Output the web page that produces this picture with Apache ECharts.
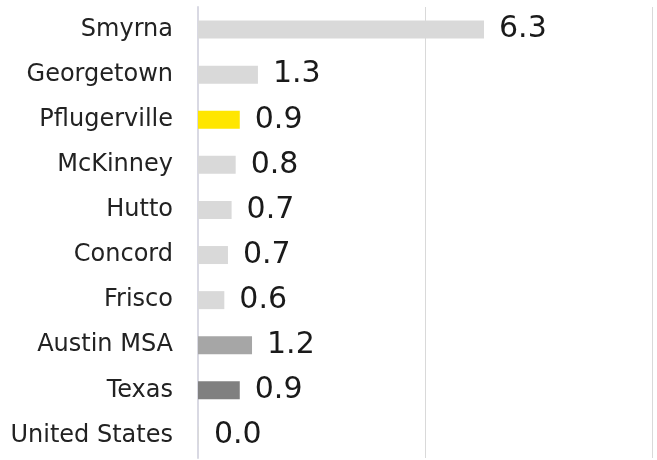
<!DOCTYPE html>
<html>
<head>
<meta charset="utf-8">
<script src="https://cdn.jsdelivr.net/npm/echarts@6/dist/echarts.min.js"></script>
<style>
  html, body { margin: 0; padding: 0; background: #fff; }
  #chart { width: 657px; height: 460px; }
</style>
</head>
<body>
<div id="chart"></div>
<script>
// data
const categories = ['Smyrna', 'Georgetown', 'Pflugerville', 'McKinney', 'Hutto', 'Concord', 'Frisco', 'Austin MSA', 'Texas', 'United States'];
const values = [6.3, 1.32, 0.92, 0.83, 0.74, 0.66, 0.58, 1.19, 0.92, 0.02];
const xTicks = [0, 5, 10];

// bar colours by category (default light grey)
const highlight = {
  'Pflugerville': '#ffe600',
  'Austin MSA': '#a6a6a6',
  'Texas': '#808080'
};

const chart = echarts.init(document.getElementById('chart'));

const option = {
  animation: false,
  grid: { left: 198, right: 5, top: 7, bottom: 2, containLabel: false },
  xAxis: {
    type: 'value',
    min: xTicks[0],
    max: xTicks[xTicks.length - 1],
    interval: xTicks[1] - xTicks[0],
    axisLabel: { show: false },
    axisLine: { show: false },
    axisTick: { show: false },
    splitLine: { lineStyle: { color: '#d9d9d9', width: 1 } }
  },
  yAxis: {
    type: 'category',
    data: categories,
    inverse: true,
    axisLine: { show: true, lineStyle: { color: '#d9d9e3', width: 2 } },
    axisTick: { show: false },
    axisLabel: {
      margin: 25,
      color: '#222',
      fontFamily: 'DejaVu Sans',
      fontSize: 24
    }
  },
  series: [{
    type: 'bar',
    barWidth: 18,
    data: values.map((v, i) => ({
      value: v,
      itemStyle: { color: highlight[categories[i]] || '#d9d9d9' }
    })),
    label: {
      show: true,
      position: 'right',
      distance: 15,
      color: '#1a1a1a',
      fontFamily: 'DejaVu Sans',
      fontSize: 30,
      formatter: p => p.value.toFixed(1)
    }
  }]
};

chart.setOption(option);
</script>
</body>
</html>
